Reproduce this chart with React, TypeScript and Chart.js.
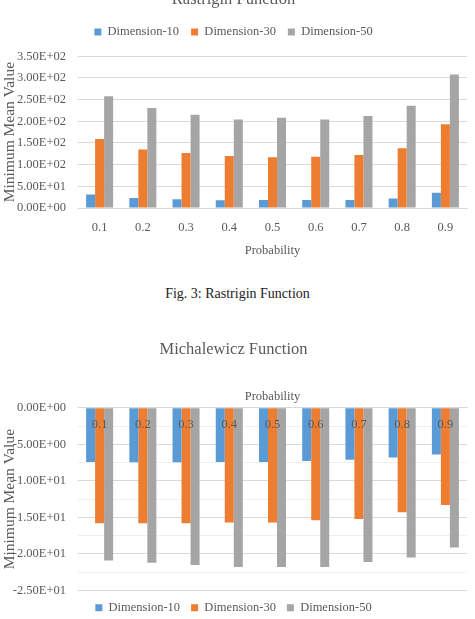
import React, { useEffect, useRef } from "react";
import { Chart, registerables } from "chart.js";

Chart.register(...registerables);

// Category axis and series
const probabilities = ["0.1", "0.2", "0.3", "0.4", "0.5", "0.6", "0.7", "0.8", "0.9"];
const seriesNames = ["Dimension-10", "Dimension-30", "Dimension-50"];
const seriesColors = ["#5B9BD5", "#ED7D31", "#A5A5A5"];

// Rastrigin minimum mean values
const rastriginDim10 = [31, 23, 20, 18, 18.5, 18.5, 18.5, 22, 35];
const rastriginDim30 = [159, 135, 127, 120, 117, 118, 122, 138, 193];
const rastriginDim50 = [258, 231, 215, 204, 208, 204, 212, 236, 308];

// Michalewicz minimum mean values
const michalewiczDim10 = [-7.4, -7.45, -7.45, -7.4, -7.4, -7.27, -7.1, -6.8, -6.4];
const michalewiczDim30 = [-15.8, -15.8, -15.8, -15.7, -15.7, -15.4, -15.2, -14.3, -13.3];
const michalewiczDim50 = [-20.9, -21.2, -21.5, -21.8, -21.8, -21.8, -21.1, -20.5, -19.1];

const FONT = "'Liberation Serif', 'Times New Roman', serif";
const TEXT = "#595959";
const GRID_MAJOR = "#d9d9d9";
const GRID_MINOR = "#efefef";

// Excel-style scientific notation, e.g. 3.50E+02
function sci(v: number): string {
  if (Math.abs(v) < 1e-12) return "0.00E+00";
  const e = Math.floor(Math.log10(Math.abs(v)) + 1e-9);
  const m = v / Math.pow(10, e);
  return m.toFixed(2) + "E" + (e < 0 ? "-" : "+") + String(Math.abs(e)).padStart(2, "0");
}

function buildDatasets(values: number[][]) {
  return values.map((data, i) => ({
    label: seriesNames[i],
    data,
    backgroundColor: seriesColors[i],
    borderWidth: 0,
    categoryPercentage: 0.625,
    barPercentage: 1.0,
  }));
}

function yScale(min: number, max: number, major: number) {
  const minor = major / 2;
  return {
    min,
    max,
    ticks: {
      stepSize: minor,
      color: TEXT,
      font: { family: FONT, size: 12.5 },
      padding: 12,
      callback: (v: any) => {
        const n = Number(v);
        const r = Math.round(n / major);
        return Math.abs(n - r * major) < 1e-6 ? sci(n) : "";
      },
    },
    grid: {
      drawTicks: false,
      color: (ctx: any) => {
        const n = ctx.tick ? ctx.tick.value : 0;
        const r = Math.round(n / major);
        return Math.abs(n - r * major) < 1e-6 ? GRID_MAJOR : GRID_MINOR;
      },
    },
    border: { display: false },
    title: {
      display: true,
      text: "Minimum Mean Value",
      color: TEXT,
      font: { family: FONT, size: 15.5 },
      padding: { top: 1, bottom: 0 },
    },
    afterFit: (s: any) => {
      s.width = 78;
    },
  };
}

// Category labels sitting just below the zero line, over the bars
const innerCategoryLabels = {
  id: "innerCategoryLabels",
  afterDatasetsDraw(chart: any) {
    const x = chart.scales.x;
    const y = chart.scales.y;
    const ctx = chart.ctx;
    const y0 = y.getPixelForValue(0);
    ctx.save();
    ctx.font = `12.5px ${FONT}`;
    ctx.fillStyle = TEXT;
    ctx.textAlign = "center";
    ctx.textBaseline = "middle";
    probabilities.forEach((p, i) => {
      ctx.fillText(p, x.getPixelForValue(i), y0 + 17);
    });
    ctx.restore();
  },
};

function RastriginChart() {
  const ref = useRef<HTMLCanvasElement>(null);
  useEffect(() => {
    const chart = new Chart(ref.current!, {
      type: "bar",
      data: {
        labels: probabilities,
        datasets: buildDatasets([rastriginDim10, rastriginDim30, rastriginDim50]),
      },
      options: {
        responsive: false,
        animation: false,
        layout: { padding: { left: 0, right: 8, top: 0, bottom: 0 } },
        plugins: {
          title: {
            display: true,
            text: "Rastrigin Function",
            color: TEXT,
            font: { family: FONT, size: 16.5, weight: "normal" },
            padding: { top: 6, bottom: 4 },
          },
          legend: {
            position: "top",
            labels: {
              boxWidth: 7,
              boxHeight: 7,
              padding: 12,
              color: TEXT,
              font: { family: FONT, size: 12.5 },
            },
          },
          tooltip: { enabled: false },
        },
        scales: {
          x: {
            grid: { display: false, drawTicks: false },
            border: { color: GRID_MAJOR },
            ticks: { color: TEXT, font: { family: FONT, size: 12.5 }, padding: 12 },
            title: {
              display: true,
              text: "Probability",
              color: TEXT,
              font: { family: FONT, size: 12.5 },
              padding: { top: -4, bottom: 0 },
            },
          },
          // empty band between the legend and the plot
          gap: {
            type: "category",
            position: "top",
            grid: { display: false, drawTicks: false },
            border: { display: false },
            ticks: { display: false },
            afterFit: (s: any) => {
              s.height = 8;
            },
          },
          y: yScale(0, 350, 50) as any,
        },
      } as any,
    });
    return () => chart.destroy();
  }, []);
  return (
    <canvas
      ref={ref}
      width={475}
      height={274}
      style={{ position: "absolute", left: 0, top: -16, width: 475, height: 274 }}
    />
  );
}

function MichalewiczChart() {
  const ref = useRef<HTMLCanvasElement>(null);
  useEffect(() => {
    const chart = new Chart(ref.current!, {
      type: "bar",
      data: {
        labels: probabilities,
        datasets: buildDatasets([michalewiczDim10, michalewiczDim30, michalewiczDim50]),
      },
      options: {
        responsive: false,
        animation: false,
        layout: { padding: { left: 0, right: 8, top: 0, bottom: 0 } },
        plugins: {
          title: {
            display: true,
            text: "Michalewicz Function",
            color: TEXT,
            font: { family: FONT, size: 16.5, weight: "normal" },
            padding: { top: 10, bottom: 29 },
          },
          legend: {
            position: "bottom",
            labels: {
              boxWidth: 7,
              boxHeight: 7,
              padding: 11,
              color: TEXT,
              font: { family: FONT, size: 12.5 },
            },
          },
          tooltip: { enabled: false },
        },
        scales: {
          x: {
            position: "top",
            grid: { display: false, drawTicks: false },
            border: { color: GRID_MAJOR },
            ticks: { display: false },
            title: {
              display: true,
              text: "Probability",
              color: TEXT,
              font: { family: FONT, size: 12.5 },
              padding: { top: 0, bottom: 4 },
            },
          },
          y: yScale(-25, 0, 5) as any,
        },
      },
      plugins: [innerCategoryLabels],
    });
    return () => chart.destroy();
  }, []);
  return (
    <canvas
      ref={ref}
      width={475}
      height={294}
      style={{ position: "absolute", left: 0, top: 330, width: 475, height: 294 }}
    />
  );
}

export default function App() {
  return (
    <div
      style={{
        position: "absolute",
        left: 0,
        top: 0,
        width: 475,
        height: 619,
        overflow: "hidden",
        background: "#ffffff",
      }}
    >
      <RastriginChart />
      <div
        style={{
          position: "absolute",
          left: 0,
          width: 475,
          top: 286,
          textAlign: "center",
          fontFamily: FONT,
          fontSize: 14,
          color: "#222222",
        }}
      >
        Fig. 3: Rastrigin Function
      </div>
      <MichalewiczChart />
    </div>
  );
}
